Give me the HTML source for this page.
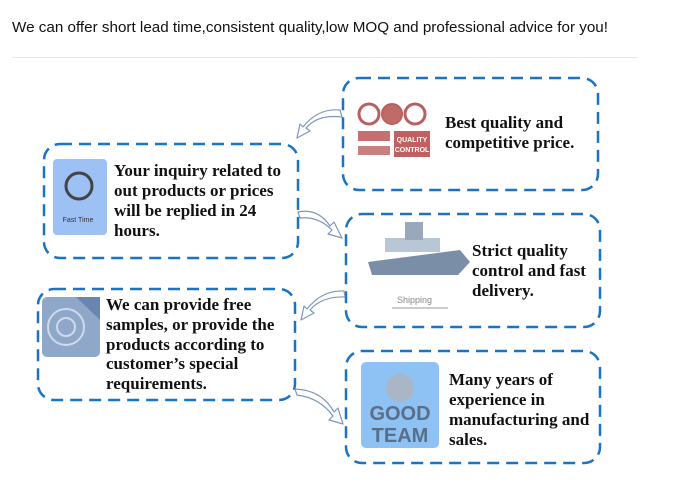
<!DOCTYPE html>
<html><head><meta charset="utf-8"><style>
html,body{margin:0;padding:0;background:#fff;width:700px;height:500px;overflow:hidden}
svg{display:block}
.t{font-family:"Liberation Serif",serif;font-weight:bold;font-size:17px;fill:#111}
</style></head><body>
<svg width="700" height="500" viewBox="0 0 700 500" xmlns="http://www.w3.org/2000/svg">
<text x="12" y="32" font-family="Liberation Sans, sans-serif" font-size="14.5" fill="#111" textLength="596" lengthAdjust="spacingAndGlyphs">We can offer short lead time,consistent quality,low MOQ and professional advice for you!</text>
<line x1="12" y1="57.5" x2="637" y2="57.5" stroke="#e3e8ee" stroke-width="1"/>

<g fill="none" stroke="#1a73c4" stroke-width="2.5" stroke-dasharray="12 7">
<rect x="343" y="78" width="255" height="112" rx="16"/>
<rect x="44" y="144" width="254" height="114" rx="16"/>
<rect x="346" y="214" width="254" height="113" rx="16"/>
<rect x="38" y="289" width="257" height="111" rx="16"/>
<rect x="346" y="351" width="254" height="112" rx="16"/>
</g>

<g fill="#fff" stroke="#7f97bb" stroke-width="1.2" stroke-linejoin="round">
<path d="M342 117 Q318 114 306 128 L310 131 L297 138 L300 124 L303 127 Q318 108 340 110 Z"/>
<path d="M298 212 Q318 208 330 226 L334 222 L342 238 L328 234 L332 230 Q318 216 300 218 Z"/>
<path d="M345 297 Q322 296 310 310 L314 313 L301 320 L304 306 L307 309 Q322 290 344 291 Z"/>
<path d="M295 389 Q322 390 334 412 L338 408 L343 424 L329 420 L333 416 Q320 398 297 395 Z"/>
</g>

<g>
<circle cx="369" cy="114" r="10" fill="#fff" stroke="#b86060" stroke-width="3"/>
<circle cx="392" cy="114" r="10" fill="#c06a6a" stroke="#b86060" stroke-width="2"/>
<circle cx="415" cy="114" r="10" fill="#fff" stroke="#b86060" stroke-width="3"/>
<rect x="358" y="131" width="32" height="10" fill="#c47070"/>
<rect x="358" y="146" width="32" height="9" fill="#c98080"/>
<rect x="394" y="131" width="36" height="26" fill="#c06060"/>
<text x="412" y="142" font-family="Liberation Sans" font-size="7" font-weight="bold" fill="#fff" text-anchor="middle">QUALITY</text>
<text x="412" y="152" font-family="Liberation Sans" font-size="7" font-weight="bold" fill="#fff" text-anchor="middle">CONTROL</text>
</g>
<rect x="53" y="159" width="54" height="76" rx="4" fill="#9dc0f5"/>
<circle cx="79" cy="186" r="13" fill="none" stroke="#444" stroke-width="3"/>
<text x="78" y="222" font-family="Liberation Sans" font-size="7" fill="#333" text-anchor="middle">Fast Time</text>

<path d="M368 262 L460 250 L470 262 L458 275 L372 275 Z" fill="#7a8ea8"/>
<rect x="385" y="238" width="55" height="14" fill="#b9c6d6"/>
<rect x="405" y="222" width="18" height="18" fill="#9aa8bb"/>
<text x="397" y="303" font-family="Liberation Sans" font-size="9" fill="#888">Shipping</text>
<line x1="392" y1="308" x2="448" y2="308" stroke="#999" stroke-width="1"/>

<rect x="42" y="297" width="58" height="60" rx="5" fill="#8fa7c9"/>
<circle cx="66" cy="327" r="18" fill="none" stroke="#cfdaea" stroke-width="2"/>
<circle cx="66" cy="327" r="9" fill="none" stroke="#cfdaea" stroke-width="2"/>
<path d="M76 297 L100 297 L100 320 Z" fill="#6a86b0"/>

<rect x="361" y="362" width="78" height="86" rx="5" fill="#8ec2f5"/>
<text x="400" y="420" font-family="Liberation Sans" font-size="20" font-weight="bold" fill="#5a6e88" text-anchor="middle">GOOD</text>
<text x="400" y="442" font-family="Liberation Sans" font-size="20" font-weight="bold" fill="#5a6e88" text-anchor="middle">TEAM</text>
<circle cx="400" cy="388" r="14" fill="#a9b6c6"/>

<text class="t" x="445" y="128">Best quality and</text>
<text class="t" x="445" y="148">competitive price.</text>

<text class="t" x="114" y="176">Your inquiry related to</text>
<text class="t" x="114" y="196">out products or prices</text>
<text class="t" x="114" y="216">will be replied in 24</text>
<text class="t" x="114" y="236">hours.</text>

<text class="t" x="472" y="256">Strict quality</text>
<text class="t" x="472" y="276">control and fast</text>
<text class="t" x="472" y="296">delivery.</text>

<text class="t" x="106" y="310">We can provide free</text>
<text class="t" x="106" y="330">samples, or provide the</text>
<text class="t" x="106" y="350">products according to</text>
<text class="t" x="106" y="369">customer’s special</text>
<text class="t" x="106" y="389">requirements.</text>

<text class="t" x="449" y="385">Many years of</text>
<text class="t" x="449" y="405">experience in</text>
<text class="t" x="449" y="425">manufacturing and</text>
<text class="t" x="449" y="445">sales.</text>
</svg>
</body></html>
